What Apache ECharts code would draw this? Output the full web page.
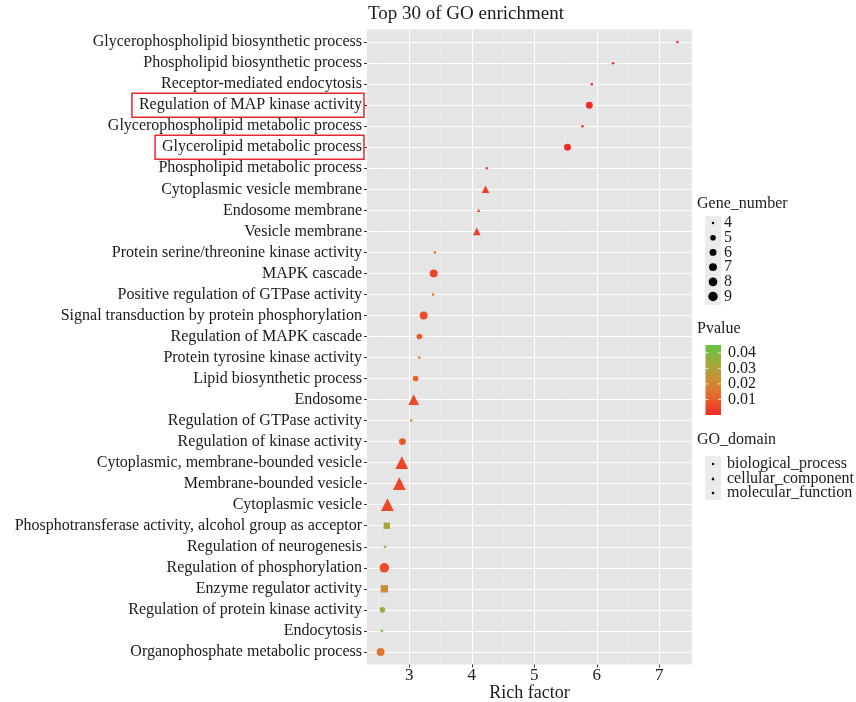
<!DOCTYPE html>
<html>
<head>
<meta charset="utf-8">
<script src="https://cdn.jsdelivr.net/npm/echarts@6/dist/echarts.min.js"></script>
<style>html,body{margin:0;padding:0;background:#fff;}#c{width:856px;height:702px;}</style>
</head>
<body>
<div id="c"></div>
<script>
const categories = [
  'Glycerophospholipid biosynthetic process',
  'Phospholipid biosynthetic process',
  'Receptor-mediated endocytosis',
  'Regulation of MAP kinase activity',
  'Glycerophospholipid metabolic process',
  'Glycerolipid metabolic process',
  'Phospholipid metabolic process',
  'Cytoplasmic vesicle membrane',
  'Endosome membrane',
  'Vesicle membrane',
  'Protein serine/threonine kinase activity',
  'MAPK cascade',
  'Positive regulation of GTPase activity',
  'Signal transduction by protein phosphorylation',
  'Regulation of MAPK cascade',
  'Protein tyrosine kinase activity',
  'Lipid biosynthetic process',
  'Endosome',
  'Regulation of GTPase activity',
  'Regulation of kinase activity',
  'Cytoplasmic, membrane-bounded vesicle',
  'Membrane-bounded vesicle',
  'Cytoplasmic vesicle',
  'Phosphotransferase activity, alcohol group as acceptor',
  'Regulation of neurogenesis',
  'Regulation of phosphorylation',
  'Enzyme regulator activity',
  'Regulation of protein kinase activity',
  'Endocytosis',
  'Organophosphate metabolic process'
];
const richFactor = [7.29, 6.26, 5.92, 5.88, 5.77, 5.53, 4.24, 4.22, 4.11, 4.08,
  3.41, 3.39, 3.38, 3.23, 3.16, 3.16, 3.10, 3.07, 3.03, 2.89,
  2.88, 2.84, 2.65, 2.64, 2.61, 2.60, 2.60, 2.57, 2.56, 2.54];
const pValue = [0.0005, 0.0008, 0.001, 0.001, 0.0015, 0.001, 0.003, 0.004, 0.005, 0.004,
  0.013, 0.005, 0.014, 0.006, 0.010, 0.018, 0.011, 0.006, 0.020, 0.009,
  0.005, 0.005, 0.006, 0.031, 0.042, 0.006, 0.022, 0.036, 0.043, 0.015];
const geneNumber = [4, 4, 4, 6, 4, 6, 4, 5, 4, 5,
  4, 7, 4, 7, 5, 4, 5, 7, 4, 6,
  9, 9, 9, 6, 4, 9, 7, 5, 4, 7];
const goDomain = ['BP','BP','BP','BP','BP','BP','BP','CC','CC','CC',
  'MF','BP','BP','BP','BP','MF','BP','CC','BP','BP',
  'CC','CC','CC','MF','BP','BP','MF','BP','BP','BP'];
const domainKeys = ['BP', 'CC', 'MF'];
const domainNames = ['biological_process', 'cellular_component', 'molecular_function'];
const domainSymbols = ['circle', 'triangle', 'rect'];
const domainScale = [1.0, 1.35, 0.92];
const xTicks = [3, 4, 5, 6, 7];
const xMinorTicks = [2.5, 3.5, 4.5, 5.5, 6.5, 7.5];
const geneLegend = [4, 5, 6, 7, 8, 9];
const pvalueTicks = [0.04, 0.03, 0.02, 0.01];
const highlighted = ['Regulation of MAP kinase activity', 'Glycerolipid metabolic process'];

const pColors = ['#F02A26', '#EB5229', '#DE742E', '#C98E34', '#ADA23A', '#8AB43F', '#62C446'];
const pMin = 0, pMax = 0.045;
const FONT = '"Liberation Serif", "Times New Roman", serif';

function geneSize(v) { return 2.5 + 7 * Math.sqrt((v - 4) / 5); }

const chart = echarts.init(document.getElementById('c'), null, {renderer: 'canvas'});

const series = domainKeys.map((k, di) => ({
  name: domainNames[di],
  type: 'scatter',
  symbol: domainSymbols[di],
  symbolSize: (val) => geneSize(val[3]) * domainScale[di],
  itemStyle: {opacity: 1},
  data: categories.map((c, i) => i).filter(i => goDomain[i] === k)
    .map(i => [richFactor[i], i, pValue[i], geneNumber[i]])
}));

const gridL = 367, gridR = 164, gridT = 29.5, gridB = 37.5;

chart.setOption({
  animation: false,
  backgroundColor: '#ffffff',
  title: {
    text: 'Top 30 of GO enrichment',
    left: 368, top: 5, padding: 0,
    textStyle: {fontFamily: FONT, fontSize: 19, fontWeight: 'normal', color: '#1a1a1a'}
  },
  grid: {
    left: gridL, right: gridR, top: gridT, bottom: gridB,
    containLabel: false, outerBoundsMode: 'none',
    show: true, backgroundColor: '#E5E5E5', borderWidth: 0
  },
  visualMap: {
    type: 'continuous', show: false, dimension: 2, min: pMin, max: pMax,
    seriesIndex: [0, 1, 2], inRange: {color: pColors}
  },
  xAxis: [{
    type: 'value', min: 2.323, max: 7.523, position: 'bottom',
    name: 'Rich factor', nameLocation: 'middle', nameGap: 20, nameMoveOverlap: false,
    nameTextStyle: {fontFamily: FONT, fontSize: 18, color: '#1a1a1a'},
    axisLine: {show: false, onZero: false},
    axisTick: {show: true, length: 3, lineStyle: {color: '#333'}, customValues: xTicks},
    axisLabel: {fontFamily: FONT, fontSize: 17, color: '#1a1a1a', margin: 3, customValues: xTicks},
    splitLine: {show: true, lineStyle: {color: '#ffffff', width: 1}}
  }, {
    type: 'value', min: 2.323, max: 7.523, position: 'bottom',
    axisLine: {show: false, onZero: false},
    axisTick: {show: false, customValues: xMinorTicks},
    axisLabel: {show: false, customValues: xMinorTicks},
    splitLine: {show: true, lineStyle: {color: '#F0F0F0', width: 0.6}}
  }],
  yAxis: {
    type: 'value', inverse: true, min: -0.6, max: categories.length - 0.4,
    axisLine: {show: false, onZero: false},
    axisTick: {show: true, length: 3, lineStyle: {color: '#333'}, customValues: categories.map((c, i) => i)},
    axisLabel: {
      fontFamily: FONT, fontSize: 16, color: '#1a1a1a', margin: 5,
      customValues: categories.map((c, i) => i),
      formatter: (v) => categories[Math.round(v)]
    },
    splitLine: {show: true, lineStyle: {color: '#ffffff', width: 1}}
  },
  series: series
});

// ---------- legends & annotations (graphic) ----------
const g = [];
const txt = (x, y, s, size, align) => ({
  type: 'text', x: x, y: y, silent: true,
  style: {text: s, x: 0, y: 0, fill: '#1a1a1a', font: size + 'px ' + FONT, textAlign: align || 'left', textVerticalAlign: 'middle'}
});

// Gene_number legend
g.push(txt(697, 204, 'Gene_number', 16));
g.push({type: 'rect', shape: {x: 705, y: 216, width: 16, height: 89}, style: {fill: '#EBEBEB'}, silent: true});
geneLegend.forEach((v, i) => {
  const y = 223 + i * 14.7;
  const r = geneSize(v) / 2;
  g.push({type: 'circle', shape: {cx: 713, cy: y, r: r}, style: {fill: '#000'}, silent: true});
  g.push(txt(724, y, String(v), 16));
});

// Pvalue legend
g.push(txt(697, 329, 'Pvalue', 16));
const barX = 705.5, barW = 15.5, barTop = 345, barBot = 415;
g.push({
  type: 'rect', shape: {x: barX, y: barTop, width: barW, height: barBot - barTop}, silent: true,
  style: {fill: new echarts.graphic.LinearGradient(0, 1, 0, 0,
    pColors.map((c, i) => ({offset: i / (pColors.length - 1), color: c})))}
});
pvalueTicks.forEach(v => {
  const y = barBot - (v - pMin) / (pMax - pMin) * (barBot - barTop);
  g.push({type: 'line', shape: {x1: barX, y1: y, x2: barX + 3, y2: y}, style: {stroke: '#fff', lineWidth: 0.8}, silent: true});
  g.push({type: 'line', shape: {x1: barX + barW - 3, y1: y, x2: barX + barW, y2: y}, style: {stroke: '#fff', lineWidth: 0.8}, silent: true});
  g.push(txt(728, y, v.toFixed(2), 16));
});

// GO_domain legend
g.push(txt(697, 440, 'GO_domain', 16));
g.push({type: 'rect', shape: {x: 705, y: 456, width: 16, height: 44}, style: {fill: '#EBEBEB'}, silent: true});
domainNames.forEach((n, i) => {
  const y = 464 + i * 14.5;
  const s = geneSize(4) * domainScale[i];
  if (domainSymbols[i] === 'circle') {
    g.push({type: 'circle', shape: {cx: 713, cy: y, r: s / 2}, style: {fill: '#000'}, silent: true});
  } else if (domainSymbols[i] === 'triangle') {
    g.push({type: 'polygon', shape: {points: [[713, y - s / 2], [713 + s / 2, y + s / 2], [713 - s / 2, y + s / 2]]}, style: {fill: '#000'}, silent: true});
  } else {
    g.push({type: 'rect', shape: {x: 713 - s / 2, y: y - s / 2, width: s, height: s}, style: {fill: '#000'}, silent: true});
  }
  g.push(txt(727, y, n, 16));
});

// Red highlight boxes around y-axis labels
const ctx = document.createElement('canvas').getContext('2d');
ctx.font = '16px ' + FONT;
highlighted.forEach(name => {
  const idx = categories.indexOf(name);
  const y = chart.convertToPixel({yAxisIndex: 0}, idx);
  const w = ctx.measureText(name).width;
  const right = gridL - 3;
  const left = gridL - 3 - 5 - w - 4;
  g.push({type: 'rect', shape: {x: left, y: y - 12, width: right - left, height: 24},
    style: {fill: 'none', stroke: '#E8282C', lineWidth: 1.5}, silent: true, z: 100});
});

chart.setOption({graphic: {elements: g}});
</script>
</body>
</html>
